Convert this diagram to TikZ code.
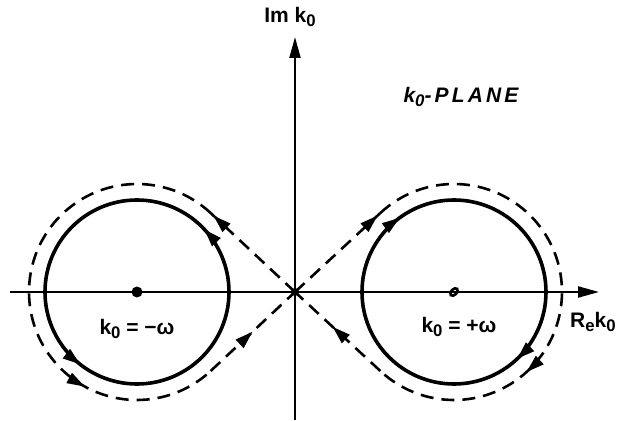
\documentclass[tikz,border=0pt]{standalone}
\usepackage{fontspec}
\setmainfont{Liberation Sans}
\usetikzlibrary{arrows.meta,decorations.markings,calc}
\newcommand{\lowsub}[1]{\raisebox{-0.35ex}{\scalebox{0.8}{#1}}}
\tikzset{
  axisline/.style={line width=2.2pt,-{Triangle[length=21pt,width=11pt]}},
  solidcirc/.style={line width=3.6pt},
  dashline/.style={line width=2.6pt,dash pattern=on 13pt off 8pt},
  mk/.style={postaction={decorate,decoration={markings,
     mark=at position #1 with {\pgfsetdash{}{0pt}\arrow{Triangle[length=18pt,width=11pt]}}}}},
  mktwo/.style 2 args={postaction={decorate,decoration={markings,
     mark=at position #1 with {\arrow{Triangle[length=18pt,width=11pt]}},
     mark=at position #2 with {\arrow{Triangle[length=18pt,width=11pt]}}}}},
  lab/.style={font=\fontsize{21}{24}\selectfont\bfseries,inner sep=0pt}
}
\begin{document}
\begin{tikzpicture}[x=1pt,y=1pt]
\useasboundingbox (-295,-128) rectangle (328,292);
\coordinate (O) at (0,0);
\coordinate (C1) at (-158,0);
\coordinate (C2) at (159,0);
\coordinate (RU) at ($(C2)+(133:108)$);
\coordinate (RL) at ($(C2)+(-133:108)$);
\coordinate (LU) at ($(C1)+(47:108)$);
\coordinate (LL) at ($(C1)+(-47:108)$);
\coordinate (XL) at (-285,0);
\coordinate (XR) at (304,0);
\coordinate (YB) at (0,-128);
\coordinate (YT) at (0,255);
% axes
\draw[axisline] (XL) -- (XR);
\draw[axisline] (YB) -- (YT);
% solid circles
\draw[solidcirc,mktwo={0.12}{0.645}] ($(C1)+(0:92)$) arc[start angle=0,end angle=360,radius=92];
\draw[solidcirc,mktwo={0.15}{0.63}] ($(C2)+(180:92)$) arc[start angle=180,end angle=-180,radius=92];
% dashed contour
\draw[dashline,mk=0.97] (O) -- (RU);
\draw[dashline,mk=0.68] (RU) arc[start angle=133,end angle=-133,radius=108];
\draw[dashline,mk=0.56] (RL) -- (O);
\draw[dashline,mk=0.97] (O) -- (LU);
\draw[dashline,mk=0.73] (LU) arc[start angle=47,end angle=313,radius=108];
\draw[dashline,mk=0.5] (LL) -- (O);
% points
\fill (C1) circle (5.5);
\fill (O) circle (4);
\draw[line width=2.6pt,rotate around={45:(C2)}] (C2) ellipse (4.5 and 2.8);
% labels
\node[lab] (im) at (-5,275) {Im k\lowsub{0}};
\node[lab,font=\fontsize{21}{24}\selectfont\bfseries\itshape\addfontfeature{LetterSpace=15}] (plane) at (166,195) {k\lowsub{0}-PLANE};
\node[lab] (lw) at (-158,-37) {k\lowsub{0} = −ω};
\node[lab] (rw) at (164,-35) {k\lowsub{0} = +ω};
\node[lab,anchor=west] (re) at (275,-30) {R\lowsub{e}k\lowsub{0}};
\end{tikzpicture}
\end{document}
